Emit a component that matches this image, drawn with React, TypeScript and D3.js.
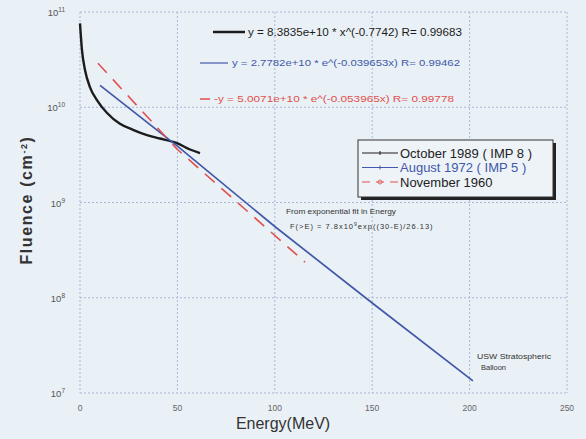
import React from 'react'
import * as d3 from 'd3'

// values
const octEnergy = [0, 1.0, 2.6, 5.1, 8.7, 13.9, 20.5, 27.2, 34.4, 41, 49.8, 56.5, 61.6]
const octFluence = [7.6e10, 4.0e10, 2.45e10, 1.63e10, 1.19e10, 8.7e9, 6.7e9, 5.8e9, 5.1e9, 4.7e9, 4.2e9, 3.6e9, 3.3e9]
const augEnergy = [10.3, 50, 100, 150, 201.7]
const augFluence = [1.7e10, 3.9e9, 5.6e8, 8.8e7, 1.34e7]
const novEnergy = [9.2, 50, 115.5]
const novFluence = [2.9e10, 3.6e9, 2.37e8]

const xTicks = [0, 50, 100, 150, 200, 250]
const yExponents = [7, 8, 9, 10, 11]

const seriesNames = ['October 1989 ( IMP 8 )', 'August 1972 ( IMP 5 )', 'November 1960']
const fitTexts = [
  'y = 8.3835e+10 * x^(-0.7742) R= 0.99683',
  'y = 2.7782e+10 * e^(-0.039653x) R= 0.99462',
  '-y = 5.0071e+10 * e^(-0.053965x) R= 0.99778',
]
const colors = ['#1c1c1c', '#4258a8', '#e0504e']

export default function App() {
  const width = 586, height = 439
  const x = d3.scaleLinear().domain([0, 250]).range([80, 567])
  const y = d3.scaleLog().domain([1e7, 1e11]).range([393, 12])

  const line = d3.line<[number, number]>()
    .x(d => x(d[0]))
    .y(d => y(d[1]))
  const smooth = d3.line<[number, number]>()
    .x(d => x(d[0]))
    .y(d => y(d[1]))
    .curve(d3.curveMonotoneX)

  const zip = (a: number[], b: number[]) => a.map((v, i) => [v, b[i]] as [number, number])

  const font = 'Liberation Sans, Arial, sans-serif'

  return (
    <svg width={width} height={height} style={{ position: 'absolute', left: 0, top: 0 }}
      fontFamily={font}>
      <rect width={width} height={height} fill="#e9f0f6" />

      {/* grid */}
      {xTicks.map(t => (
        <line key={'gx' + t} x1={x(t)} x2={x(t)} y1={y(1e11)} y2={y(1e7)}
          stroke="#a8b8d6" strokeWidth={1} strokeDasharray="2,2" />
      ))}
      {yExponents.map(e => (
        <line key={'gy' + e} x1={x(0)} x2={x(250)} y1={y(Math.pow(10, e))} y2={y(Math.pow(10, e))}
          stroke="#a8b8d6" strokeWidth={1} strokeDasharray="2,2" />
      ))}

      {/* tick labels */}
      {xTicks.map(t => (
        <text key={'tx' + t} x={x(t)} y={411} fontSize={8.5} fill="#666" textAnchor="middle">{t}</text>
      ))}
      {yExponents.map(e => (
        <text key={'ty' + e} x={65} y={y(Math.pow(10, e)) + 4} fontSize={9.5} fill="#555" textAnchor="end">
          10<tspan dy={-4} fontSize={6.5}>{e}</tspan>
        </text>
      ))}

      {/* axis titles */}
      <text x={283} y={429} fontSize={16} fill="#333" textAnchor="middle">Energy(MeV)</text>
      <text transform="translate(32,200) rotate(-90)" fontSize={16} fontWeight="bold" fill="#333"
        textAnchor="middle" letterSpacing={1.6}>
        Fluence (cm<tspan dy={-5} fontSize={9}>-2</tspan><tspan dy={5}>)</tspan>
      </text>

      {/* data */}
      <path d={smooth(zip(octEnergy, octFluence)) || ''} fill="none" stroke={colors[0]} strokeWidth={2.4} />
      <path d={line(zip(augEnergy, augFluence)) || ''} fill="none" stroke={colors[1]} strokeWidth={1.7} />
      <path d={line(zip(novEnergy, novFluence)) || ''} fill="none" stroke={colors[2]} strokeWidth={1.6}
        strokeDasharray="13,9" />

      {/* fit equations */}
      <line x1={213} x2={245} y1={32} y2={32} stroke={colors[0]} strokeWidth={2.5} />
      <text x={248} y={36} fontSize={10} fill={colors[0]} textLength={214} lengthAdjust="spacingAndGlyphs">{fitTexts[0]}</text>
      <line x1={200} x2={228} y1={63} y2={63} stroke={colors[1]} strokeWidth={1.2} />
      <text x={232} y={66} fontSize={9} fill={colors[1]} textLength={228} lengthAdjust="spacingAndGlyphs">{fitTexts[1]}</text>
      <line x1={200} x2={210} y1={99} y2={99} stroke={colors[2]} strokeWidth={1.5} />
      <text x={214} y={102} fontSize={9} fill={colors[2]} textLength={240} lengthAdjust="spacingAndGlyphs">{fitTexts[2]}</text>

      {/* legend */}
      <rect x={361} y={143} width={195} height={57} fill="#222" />
      <rect x={358} y={140} width={195} height={57} fill="#eef3f8" stroke="#333" strokeWidth={1} />
      {seriesNames.map((name, i) => {
        const ly = 153 + i * 14.5
        return (
          <g key={name}>
            <line x1={362} x2={398} y1={ly} y2={ly} stroke={colors[i]} strokeWidth={1.2}
              strokeDasharray={i === 2 ? '8,6' : undefined} />
            {i < 2 && <line x1={380} x2={380} y1={ly - 2} y2={ly + 2} stroke={colors[i]} />}
            {i === 2 && <circle cx={380} cy={ly} r={2} fill="none" stroke={colors[i]} strokeWidth={0.8} />}
            <text x={400} y={ly + 4.5} fontSize={13} fill={i === 1 ? colors[1] : '#222'}>{name}</text>
          </g>
        )
      })}

      {/* annotations */}
      <text x={286} y={214} fontSize={7} fill="#333" textLength={110} lengthAdjust="spacingAndGlyphs">From exponential fit in Energy</text>
      <text x={290} y={229} fontSize={7.5} fill="#333" letterSpacing={1}>
        F(&gt;E) = 7.8x10<tspan dy={-3} fontSize={5}>9</tspan><tspan dy={3}>exp((30-E)/26.13)</tspan>
      </text>
      <text x={477} y={359} fontSize={7.5} fill="#333" textLength={74} lengthAdjust="spacingAndGlyphs">USW Stratospheric</text>
      <text x={481} y={370} fontSize={7.5} fill="#333">Balloon</text>
    </svg>
  )
}
